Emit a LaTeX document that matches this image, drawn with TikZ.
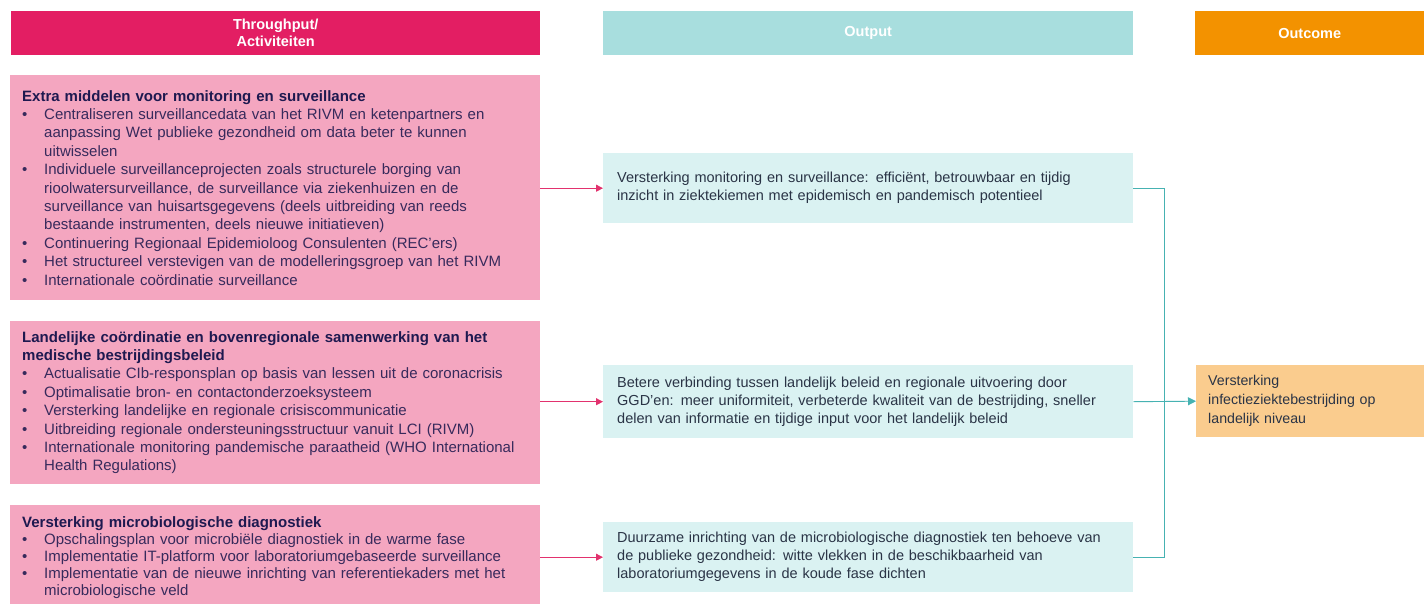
\documentclass[tikz,border=0pt]{standalone}
\usepackage{fontspec}
\setmainfont{Liberation Sans}
\usetikzlibrary{arrows.meta}

\definecolor{crimson}{RGB}{227,30,99}
\definecolor{headteal}{RGB}{168,222,222}
\definecolor{headorange}{RGB}{243,146,0}
\definecolor{actpink}{RGB}{244,166,192}
\definecolor{outteal}{RGB}{218,242,242}
\definecolor{resorange}{RGB}{250,204,142}
\definecolor{navy}{RGB}{30,25,80}
\definecolor{plum}{RGB}{55,42,92}
\definecolor{slate}{RGB}{42,52,70}
\definecolor{pinkline}{RGB}{226,50,110}
\definecolor{tealline}{RGB}{70,178,178}

% bullet line with hanging indent
\newcommand{\bitem}[1]{\par\hangindent=22pt\hangafter=1\noindent\makebox[22pt][l]{\textbullet}#1\par}

\begin{document}
\begin{tikzpicture}[x=1pt, y=-1pt]
  % Define styles
  \tikzstyle{header} = [rectangle, anchor=north west, minimum height=44pt, text=white, font=\fontsize{14.5}{17}\selectfont\bfseries, align=center, inner sep=0pt]
  \tikzstyle{activity} = [rectangle, anchor=north west, fill=actpink, text width=506pt, inner xsep=12pt, inner ysep=8pt, align=left, text=plum, font=\fontsize{15}{18.4}\selectfont]
  \tikzstyle{output} = [rectangle, anchor=north west, fill=outteal, text width=502pt, inner xsep=14pt, minimum height=70pt, align=left, text=slate, font=\fontsize{14.5}{18}\selectfont]
  \tikzstyle{outcome} = [rectangle, anchor=north west, fill=resorange, text width=204pt, inner xsep=12pt, minimum height=72pt, align=left, text=slate, font=\fontsize{14.2}{19}\selectfont]
  \tikzstyle{pinkarrow} = [draw=pinkline, line width=0.9pt, -{Triangle[length=7pt, width=7pt]}]
  \tikzstyle{tealarrow} = [draw=tealline, line width=0.9pt, -{Triangle[length=8pt, width=8pt]}]

  \useasboundingbox (0,0) rectangle (1424,603);

  % Column headers
  \node[header, fill=crimson, minimum width=529pt] (hthru) at (11,11) {Throughput/\\Activiteiten};
  \node[header, fill=headteal, minimum width=530pt] (hout) at (603,11) {Output};
  \node[header, fill=headorange, minimum width=229pt] (hres) at (1195,11) {Outcome};

  % Activities
  \node[activity, minimum height=225pt] (act1) at (10,75) {%
    \textcolor{navy}{\textbf{Extra middelen voor monitoring en surveillance}}
    \bitem{Centraliseren surveillancedata van het RIVM en ketenpartners en\newline aanpassing Wet publieke gezondheid om data beter te kunnen\newline uitwisselen}
    \bitem{Individuele surveillanceprojecten zoals structurele borging van\newline rioolwatersurveillance, de surveillance via ziekenhuizen en de\newline surveillance van huisartsgegevens (deels uitbreiding van reeds\newline bestaande instrumenten, deels nieuwe initiatieven)}
    \bitem{Continuering Regionaal Epidemioloog Consulenten (REC'ers)}
    \bitem{Het structureel verstevigen van de modelleringsgroep van het RIVM}
    \bitem{Internationale coördinatie surveillance}};
  \node[activity, minimum height=163pt] (act2) at (10,321) {%
    \textcolor{navy}{\textbf{Landelijke coördinatie en bovenregionale samenwerking van het\newline medische bestrijdingsbeleid}}
    \bitem{Actualisatie CIb-responsplan op basis van lessen uit de coronacrisis}
    \bitem{Optimalisatie bron- en contactonderzoeksysteem}
    \bitem{Versterking landelijke en regionale crisiscommunicatie}
    \bitem{Uitbreiding regionale ondersteuningsstructuur vanuit LCI (RIVM)}
    \bitem{Internationale monitoring pandemische paraatheid (WHO International\newline Health Regulations)}};
  \node[activity, inner ysep=11pt, font=\fontsize{15}{17}\selectfont] (act3) at (10,505) {%
    \textcolor{navy}{\textbf{Versterking microbiologische diagnostiek}}
    \bitem{Opschalingsplan voor microbiële diagnostiek in de warme fase}
    \bitem{Implementatie IT-platform voor laboratoriumgebaseerde surveillance}
    \bitem{Implementatie van de nieuwe inrichting van referentiekaders met het\newline microbiologische veld}};

  % Outputs
  \node[output] (out1) at (603,153) {Versterking monitoring en surveillance: efficiënt, betrouwbaar en tijdig\newline inzicht in ziektekiemen met epidemisch en pandemisch potentieel};
  \node[output, minimum height=73pt] (out2) at (603,365) {Betere verbinding tussen landelijk beleid en regionale uitvoering door\newline GGD'en: meer uniformiteit, verbeterde kwaliteit van de bestrijding, sneller\newline delen van informatie en tijdige input voor het landelijk beleid};
  \node[output] (out3) at (603,522) {Duurzame inrichting van de microbiologische diagnostiek ten behoeve van\newline de publieke gezondheid: witte vlekken in de beschikbaarheid van\newline laboratoriumgegevens in de koude fase dichten};

  % Outcome
  \node[outcome] (res) at (1196,365) {Versterking\newline infectieziektebestrijding op\newline landelijk niveau};

  % Arrows: activities to outputs
  \draw[pinkarrow] (act1.east |- out1.west) -- (out1.west);
  \draw[pinkarrow] (act2.east |- out2.west) -- (out2.west);
  \draw[pinkarrow] (act3.east |- out3.west) -- (out3.west);

  % Arrows: outputs to outcome
  \coordinate (bus) at (1164,0);
  \draw[draw=tealline, line width=0.9pt] (out1.east) -| (bus |- out3.east) -- (out3.east);
  \draw[tealarrow] (out2.east) -- (res.west);

\end{tikzpicture}
\end{document}
